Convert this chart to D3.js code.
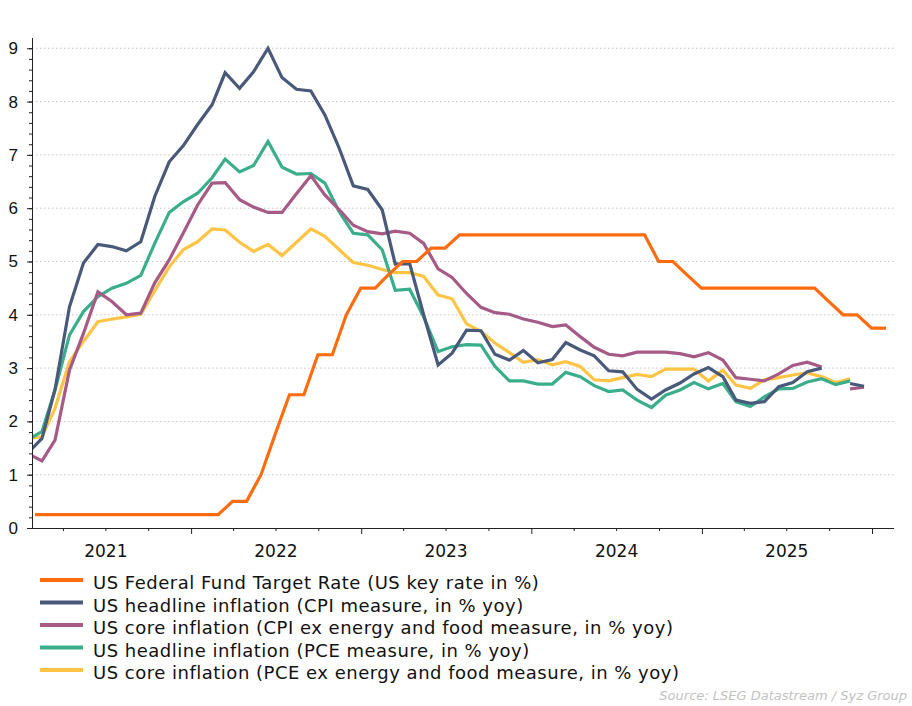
<!DOCTYPE html>
<html>
<head>
<meta charset="utf-8">
<script src="https://cdn.jsdelivr.net/npm/d3@7"></script>
<style>
  body { margin: 0; background: #fff; }
  svg { display: block; }
</style>
</head>
<body>
<div id="chart"></div>
<script>
// monthly series, first value = Jan 2021
const cpiHeadline = [
  1.4, 1.68, 2.6, 4.15, 4.97, 5.32, 5.28, 5.2, 5.37, 6.22, 6.87, 7.17,
  7.57, 7.94, 8.54, 8.25, 8.56, 9.0, 8.45, 8.23, 8.2, 7.75, 7.12, 6.42,
  6.35, 5.97, 4.95, 4.96, 4.0, 3.06, 3.28, 3.71, 3.7, 3.26, 3.15, 3.33,
  3.1, 3.16, 3.48, 3.34, 3.23, 2.95, 2.93, 2.6, 2.42, 2.59, 2.72, 2.89,
  3.01, 2.84, 2.4, 2.34, 2.37, 2.65, 2.73, 2.93, 3.0, null, 2.71, 2.66
];
const cpiCore = [
  1.4, 1.26, 1.65, 2.96, 3.65, 4.43, 4.25, 4.0, 4.03, 4.6, 5.03, 5.53,
  6.06, 6.47, 6.48, 6.16, 6.02, 5.92, 5.92, 6.27, 6.61, 6.25, 5.97, 5.68,
  5.56, 5.52, 5.57, 5.53, 5.34, 4.86, 4.7, 4.4, 4.14, 4.04, 4.01, 3.92,
  3.86, 3.78, 3.81, 3.59, 3.39, 3.26, 3.23, 3.3, 3.3, 3.3, 3.27, 3.21,
  3.29, 3.15, 2.82, 2.79, 2.76, 2.89, 3.05, 3.11, 3.02, null, 2.61, 2.64
];
const pceHeadline = [
  1.65, 1.81, 2.59, 3.62, 4.06, 4.34, 4.5, 4.59, 4.74, 5.34, 5.92, 6.12,
  6.28, 6.57, 6.92, 6.68, 6.8, 7.25, 6.77, 6.64, 6.65, 6.47, 5.93, 5.53,
  5.5, 5.22, 4.46, 4.48, 3.96, 3.31, 3.4, 3.44, 3.43, 3.03, 2.76, 2.76,
  2.7, 2.7, 2.92, 2.84, 2.67, 2.56, 2.59, 2.4, 2.26, 2.49, 2.59, 2.73,
  2.61, 2.71, 2.37, 2.28, 2.46, 2.61, 2.62, 2.74, 2.8, 2.69, 2.76
];
const pceCore = [
  1.68, 1.71, 2.25, 3.12, 3.5, 3.87, 3.92, 3.96, 4.01, 4.45, 4.9, 5.22,
  5.37, 5.61, 5.59, 5.36, 5.19, 5.32, 5.11, 5.36, 5.61, 5.47, 5.22, 4.98,
  4.93, 4.85, 4.79, 4.79, 4.72, 4.37, 4.3, 3.83, 3.69, 3.47, 3.29, 3.11,
  3.16, 3.06, 3.12, 3.03, 2.78, 2.76, 2.82, 2.88, 2.84, 2.98, 2.98, 2.98,
  2.76, 2.96, 2.68, 2.62, 2.78, 2.82, 2.87, 2.91, 2.84, 2.73, 2.8
];
// month-end values, Jan 2021 .. Jan 2026
const fedRate = [
  0.25, 0.25, 0.25, 0.25, 0.25, 0.25, 0.25, 0.25, 0.25, 0.25, 0.25, 0.25,
  0.25, 0.25, 0.5, 0.5, 1.0, 1.75, 2.5, 2.5, 3.25, 3.25, 4.0, 4.5,
  4.5, 4.75, 5.0, 5.0, 5.25, 5.25, 5.5, 5.5, 5.5, 5.5, 5.5, 5.5,
  5.5, 5.5, 5.5, 5.5, 5.5, 5.5, 5.5, 5.5, 5.0, 5.0, 4.75, 4.5,
  4.5, 4.5, 4.5, 4.5, 4.5, 4.5, 4.5, 4.5, 4.25, 4.0, 4.0, 3.75,
  3.75
];

const years = [2021, 2022, 2023, 2024, 2025];
const yTicks = [0, 1, 2, 3, 4, 5, 6, 7, 8, 9];

const series = [
  { name: "US Federal Fund Target Rate (US key rate in %)", values: fedRate, day: 0, color: "#ff6c10" },
  { name: "US headline inflation (CPI measure, in % yoy)", values: cpiHeadline, day: 15, color: "#48597a" },
  { name: "US core inflation (CPI ex energy and food measure, in % yoy)", values: cpiCore, day: 15, color: "#a65a86" },
  { name: "US headline inflation (PCE measure, in % yoy)", values: pceHeadline, day: 15, color: "#3aae8b" },
  { name: "US core inflation (PCE ex energy and food measure, in % yoy)", values: pceCore, day: 15, color: "#ffc445" }
];

const W = 912, H = 706;
const plotLeft = 32, plotRight = 894, plotBottom = 528, plotTop = 37.6;

const svg = d3.select("#chart").append("svg")
    .attr("width", W)
    .attr("height", H)
    .style("font-family", "'DejaVu Sans', sans-serif");

const xScale = d3.scaleTime()
    .domain([new Date(2021, 0, 1), new Date(2026, 0, 1)])
    .range([21, 872]);

const yScale = d3.scaleLinear()
    .domain([0, 9.2])
    .range([plotBottom, plotTop]);

// dotted gridlines
svg.append("g")
    .selectAll("line")
    .data(yTicks.filter(d => d > 0))
    .join("line")
    .attr("x1", plotLeft)
    .attr("x2", plotRight)
    .attr("y1", d => yScale(d))
    .attr("y2", d => yScale(d))
    .attr("stroke", "#c4c4c4")
    .attr("stroke-width", 1)
    .attr("stroke-dasharray", "1.5,2.5");

// clip for lines
svg.append("defs").append("clipPath")
    .attr("id", "plot-clip")
    .append("rect")
    .attr("x", plotLeft)
    .attr("y", 0)
    .attr("width", plotRight - plotLeft)
    .attr("height", plotBottom);

const chartArea = svg.append("g").attr("clip-path", "url(#plot-clip)");

const line = d3.line()
    .defined(d => d.v != null)
    .x(d => xScale(d.date))
    .y(d => yScale(d.v));

// draw back to front so the legend order stays readable
series.slice().reverse().forEach(s => {
  const pts = s.values.map((v, i) => ({
    date: s.day === 0 ? new Date(2021, i + 1, 0) : new Date(2021, i, s.day),
    v: v
  }));
  chartArea.append("path")
      .datum(pts)
      .attr("fill", "none")
      .attr("stroke", s.color)
      .attr("stroke-width", 3.2)
      .attr("stroke-linejoin", "miter")
      .attr("d", line);
});

// y axis: major ticks at integers, minor every 0.2
const yMinor = d3.range(0, 46).map(i => i * 0.2);
svg.append("g")
    .attr("transform", `translate(${plotLeft},0)`)
    .call(d3.axisLeft(yScale).tickValues(yMinor).tickSize(3).tickFormat(""))
    .call(g => g.select(".domain").remove())
    .selectAll("line").attr("stroke", "#222");

svg.append("g")
    .attr("transform", `translate(${plotLeft},0)`)
    .call(d3.axisLeft(yScale).tickValues(yTicks).tickSize(5).tickSizeOuter(0).tickPadding(9))
    .call(g => g.select(".domain").attr("stroke", "#222"))
    .call(g => g.selectAll(".tick line").attr("stroke", "#222"))
    .call(g => g.selectAll("text").style("font-size", "17px").attr("fill", "#111"));

// x axis: quarterly ticks, longer at year starts, year labels mid-year
const quarterTicks = d3.timeMonth.every(3).range(new Date(2021, 3, 1), new Date(2026, 1, 1));
svg.append("g")
    .attr("transform", `translate(0,${plotBottom})`)
    .call(d3.axisBottom(xScale).tickValues(quarterTicks).tickSize(3).tickSizeOuter(0).tickFormat(""))
    .call(g => g.select(".domain")
        .attr("d", `M${plotLeft},0.5H${plotRight}`)
        .attr("stroke", "#222"))
    .call(g => g.selectAll(".tick line")
        .attr("stroke", "#222")
        .attr("y2", d => d.getMonth() === 0 ? 6 : 3));

svg.append("g")
    .selectAll("text")
    .data(years)
    .join("text")
    .attr("x", d => xScale(new Date(d, 6, 2)))
    .attr("y", plotBottom + 29)
    .attr("text-anchor", "middle")
    .style("font-size", "17px")
    .attr("fill", "#111")
    .text(d => d);

// legend
const legend = svg.append("g")
    .attr("transform", "translate(40,580)");

const rows = legend.selectAll("g")
    .data(series)
    .join("g")
    .attr("transform", (d, i) => `translate(0,${i * 22.5})`);

rows.append("line")
    .attr("x1", 0)
    .attr("x2", 43)
    .attr("stroke", d => d.color)
    .attr("stroke-width", 4);

rows.append("text")
    .attr("x", 53)
    .attr("y", 9)
    .style("font-size", "18px")
    .style("letter-spacing", "0.5px")
    .attr("fill", "#111")
    .text(d => d.name);

svg.append("text")
    .attr("x", 907)
    .attr("y", 700)
    .attr("text-anchor", "end")
    .style("font-style", "italic")
    .style("font-size", "13px")
    .attr("fill", "#c2c2c2")
    .text("Source: LSEG Datastream / Syz Group");
</script>
</body>
</html>
